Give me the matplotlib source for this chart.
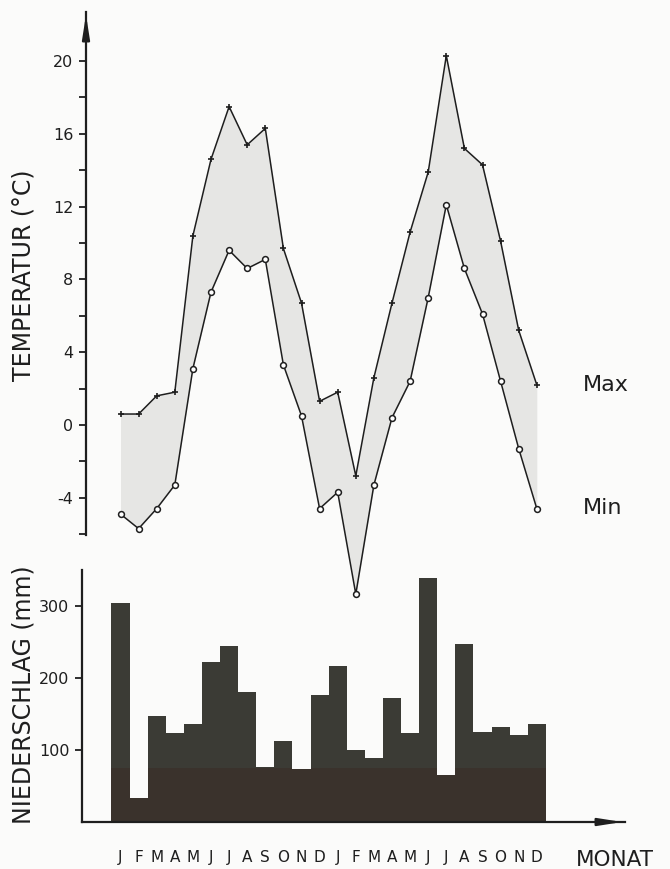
import numpy as np
import matplotlib
matplotlib.use("Agg")
import matplotlib.pyplot as plt

# monthly values, two years
months = ["J", "F", "M", "A", "M", "J", "J", "A", "S", "O", "N", "D",
          "J", "F", "M", "A", "M", "J", "J", "A", "S", "O", "N", "D"]
tmax = [0.6, 0.6, 1.6, 1.8, 10.4, 14.6, 17.5, 15.4, 16.3, 9.7, 6.7, 1.3,
        1.8, -2.8, 2.6, 6.7, 10.6, 13.9, 20.3, 15.2, 14.3, 10.1, 5.2, 2.2]
tmin = [-4.9, -5.7, -4.6, -3.3, 3.1, 7.3, 9.6, 8.6, 9.1, 3.3, 0.5, -4.6,
        -3.7, -9.3, -3.3, 0.4, 2.4, 7.0, 12.1, 8.6, 6.1, 2.4, -1.3, -4.6]
precip = [304, 33, 147, 124, 136, 222, 244, 180, 76, 112, 74, 176,
          217, 100, 89, 172, 123, 339, 65, 247, 125, 132, 121, 136]

plt.rcParams["font.family"] = "DejaVu Sans"
plt.rcParams["axes.unicode_minus"] = False

W, H = 670, 869
fig = plt.figure(figsize=(W / 100, H / 100), dpi=100, facecolor="#fbfbfa")

# pixel mapping: month i sits at x0 + dx*i
x0, dx = 120.5, 18.1


def px_axes(left, right, top, bottom):
    return fig.add_axes([left / W, 1 - bottom / H, (right - left) / W, (bottom - top) / H])


ink = "#1e1e1e"
x = np.arange(len(months))

# ---- precipitation panel (drawn first so the temperature curve dipping below sits on top)
ax2 = px_axes(82, 625, 570, 822)
ax2.set_facecolor("none")
ax2.set_xlim((82 - x0) / dx, (625 - x0) / dx)
ax2.set_ylim(0, 350)
ax2.bar(x, precip, width=1.0, color="#3b3b35", lw=0)
ax2.bar(x, np.minimum(precip, 75), width=1.0, color="#3a322c", lw=0)
for s in ["top", "right"]:
    ax2.spines[s].set_visible(False)
for s in ["left", "bottom"]:
    ax2.spines[s].set_linewidth(1.6)
    ax2.spines[s].set_color(ink)
ax2.set_yticks([100, 200, 300])
ax2.tick_params(axis="y", length=5, width=1.3, color=ink, labelsize=11.5,
                pad=4, labelcolor=ink)
ax2.set_xticks(x, months)
ax2.tick_params(axis="x", length=0, pad=20, labelsize=11, labelcolor=ink)
ax2.annotate("", xy=(1.0, 0), xytext=(0.955, 0), xycoords="axes fraction",
             arrowprops=dict(arrowstyle="-|>,head_length=1.4,head_width=0.22",
                             color=ink, lw=1.6))

# ---- temperature panel
ax = px_axes(86, 640, 12, 535)
ax.set_facecolor("none")
ax.set_xlim((86 - x0) / dx, (640 - x0) / dx)
ax.set_ylim(-6.05, 22.7)
ax.fill_between(x, tmin, tmax, color="#e6e6e4", lw=0, clip_on=False)
ax.plot(x, tmax, color=ink, lw=1.1, marker="+", ms=4.5, mew=1.2, clip_on=False)
ax.plot(x, tmin, color=ink, lw=1.1, marker="o", ms=4.2, mfc="white", mew=1.1,
        clip_on=False)
for s in ["top", "right", "bottom"]:
    ax.spines[s].set_visible(False)
ax.spines["left"].set_linewidth(1.6)
ax.spines["left"].set_color(ink)
ax.set_xticks([])
ax.set_yticks(np.arange(-4, 21, 4))
ax.set_yticks(np.arange(-6, 19, 4), minor=True)
ax.tick_params(axis="y", which="both", length=5, width=1.3, color=ink,
               labelsize=11.5, pad=4, labelcolor=ink)
ax.annotate("", xy=(0, 1.0), xytext=(0, 0.955), xycoords="axes fraction",
            arrowprops=dict(arrowstyle="-|>,head_length=1.4,head_width=0.22",
                            color=ink, lw=1.6))

# ---- labels
fig.text(24 / W, 1 - 275 / H, "TEMPERATUR (°C)", rotation=90, ha="center",
         va="center", fontsize=17, color=ink)
fig.text(24 / W, 1 - 695 / H, "NIEDERSCHLAG (mm)", rotation=90, ha="center",
         va="center", fontsize=17, color=ink)
fig.text(583 / W, 1 - 385 / H, "Max", ha="left", va="center", fontsize=16, color=ink)
fig.text(583 / W, 1 - 508 / H, "Min", ha="left", va="center", fontsize=16, color=ink)
fig.text(576 / W, 1 - 860 / H, "MONAT", ha="left", va="center", fontsize=15.5, color=ink)

fig.savefig("out.png", dpi=100, facecolor=fig.get_facecolor())
